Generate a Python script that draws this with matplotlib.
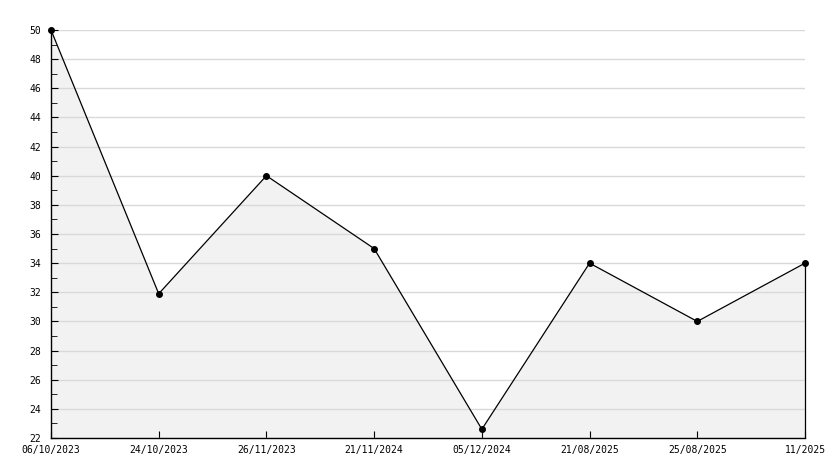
import matplotlib
matplotlib.use("Agg")
from matplotlib import pyplot as plt
from matplotlib.ticker import MultipleLocator
import numpy as np

# Datos
# ========================================
fechas = ["06/10/2023", "24/10/2023", "26/11/2023", "21/11/2024",
          "05/12/2024", "21/08/2025", "25/08/2025", "11/2025"]
valores = [50, 31.9, 40, 35, 22.6, 34, 30, 34]

y_min = 22
y_max = 50

# Figura
# ========================================
W, H = 834, 468
fig = plt.figure(figsize=(W / 100, H / 100), dpi=100)
ax = fig.add_axes([51 / W, 1 - 438 / H, (805 - 51) / W, (438 - 30) / H])

x = np.arange(len(valores))

ax.fill_between(x, valores, y_min, color="#f2f2f2", linewidth=0, zorder=1)
ax.plot(x, valores, color="black", linewidth=0.9, marker="o", markersize=4,
        zorder=3, clip_on=False)
ax.vlines(x[-1], y_min, valores[-1], color="black", linewidth=0.9, zorder=3,
          clip_on=False)

ax.set_xlim(x[0], x[-1])
ax.set_ylim(y_min, y_max)

ax.yaxis.set_major_locator(MultipleLocator(2))
ax.yaxis.set_minor_locator(MultipleLocator(1))
ax.set_xticks(x)
ax.set_xticklabels(fechas)

ax.grid(axis="y", which="major", color="#d9d9d9", linewidth=1)
ax.set_axisbelow(False)

for s in ["top", "right"]:
    ax.spines[s].set_visible(False)
for s in ["left", "bottom"]:
    ax.spines[s].set_linewidth(1)
    ax.spines[s].set_zorder(4)

ax.tick_params(axis="both", which="both", direction="in", color="black",
               labelsize=7)
ax.tick_params(axis="y", which="major", length=5, pad=7)
ax.tick_params(axis="y", which="minor", length=4)
ax.tick_params(axis="x", which="major", length=5, pad=5)
ax.tick_params(axis="x", which="minor", length=0)

for lbl in ax.get_xticklabels() + ax.get_yticklabels():
    lbl.set_family("DejaVu Sans Mono")

fig.savefig("out.png", dpi=100)
